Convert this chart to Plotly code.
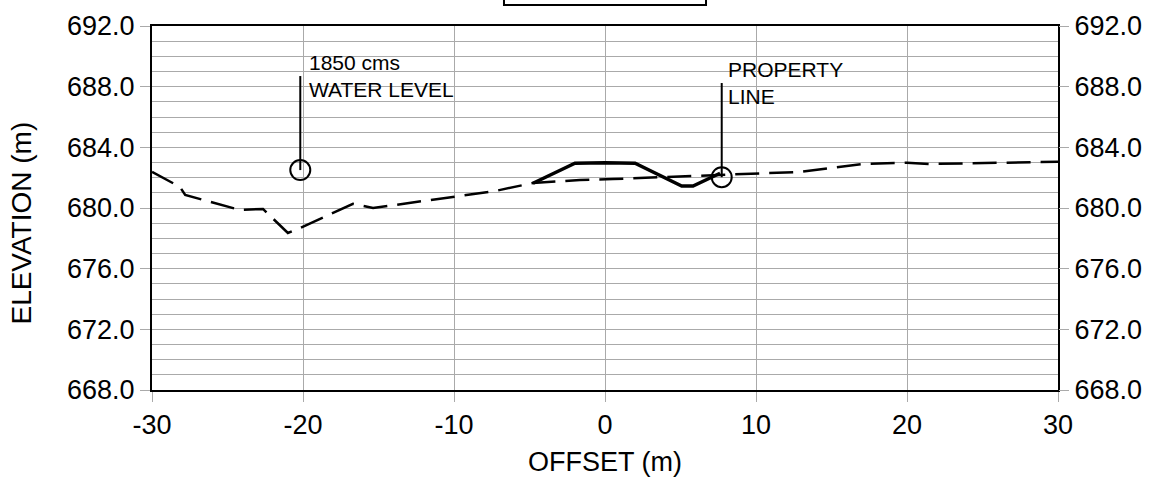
import plotly.graph_objects as go

# Existing ground (dashed)
ground_x = [-30, -28.15, -27.8, -24.17, -22.65, -21.0, -20.33, -16.69, -15.36, -7.28,
            -4.77, -1.66, 0.53, 4.1, 7.62, 12.9, 17.1, 20.0, 21.5, 30]
ground_y = [682.38, 681.39, 680.86, 679.87, 679.94, 678.35, 678.62, 680.27, 680.0, 681.12,
            681.65, 681.85, 681.91, 682.05, 682.18, 682.38, 682.9, 682.99, 682.9, 683.05]

# Proposed section (solid)
road_x = [-4.77, -1.99, 0.0, 1.99, 5.08, 5.83, 7.62]
road_y = [681.63, 682.95, 682.99, 682.95, 681.45, 681.45, 682.29]

# Markers: water level and property line
water_x = [-20.18]
water_y = [682.5]
water_top = [688.7]
water_label = "1850 cms<br>WATER LEVEL"

prop_x = [7.73]
prop_y = [682.03]
prop_top = [688.24]
prop_label = "PROPERTY<br>LINE"

x_ticks = [-30, -20, -10, 0, 10, 20, 30]
x_tick_labels = ["-30", "-20", "-10", "0", "10", "20", "30"]
x_range = [-30, 30]
y_range = [668, 692]

FONT = "Liberation Sans, Arial, sans-serif"
GRID = "#aaaaaa"

fig = go.Figure()
fig.add_trace(go.Scatter(x=ground_x, y=ground_y, mode="lines",
                         line=dict(color="black", width=2.5, dash="24px,10px"),
                         showlegend=False, hoverinfo="skip"))
fig.add_trace(go.Scatter(x=road_x, y=road_y, mode="lines",
                         line=dict(color="black", width=3.5),
                         showlegend=False, hoverinfo="skip"))
for mx, my, mt in [(water_x, water_y, water_top), (prop_x, prop_y, prop_top)]:
    fig.add_trace(go.Scatter(x=[mx[0], mx[0]], y=[my[0], mt[0]], mode="lines",
                             line=dict(color="black", width=2),
                             showlegend=False, hoverinfo="skip"))
    fig.add_trace(go.Scatter(x=mx, y=my, mode="markers",
                             marker=dict(symbol="circle-open", size=20,
                                         color="black", line=dict(width=2)),
                             showlegend=False, hoverinfo="skip"))
# invisible trace so the right axis is drawn
fig.add_trace(go.Scatter(x=ground_x, y=ground_y, mode="lines", yaxis="y2",
                         line=dict(width=0), opacity=0,
                         showlegend=False, hoverinfo="skip"))

fig.add_annotation(x=water_x[0] + 0.45, y=water_top[0], text=water_label,
                   xanchor="left", yanchor="middle", align="left", showarrow=False,
                   font=dict(family=FONT, size=21, color="black"))
fig.add_annotation(x=prop_x[0] + 0.3, y=prop_top[0], text=prop_label,
                   xanchor="left", yanchor="middle", align="left", showarrow=False,
                   font=dict(family=FONT, size=21, color="black"))

# axis titles
fig.add_annotation(x=0.5, y=-0.198, xref="paper", yref="paper", text="OFFSET (m)",
                   showarrow=False, xanchor="center", yanchor="middle",
                   font=dict(family=FONT, size=27, color="black"))
fig.add_annotation(x=-0.1435, y=0.46, xref="paper", yref="paper", text="ELEVATION (m)",
                   showarrow=False, xanchor="center", yanchor="middle", textangle=-90,
                   font=dict(family=FONT, size=28, color="black"))

# title box at top (clipped)
fig.add_shape(type="rect", xref="paper", yref="paper", x0=0.3885, x1=0.6115,
              y0=1.0577, y1=1.3, line=dict(color="black", width=2), fillcolor="white")

tick_font = dict(family=FONT, size=27, color="black")
fig.update_layout(
    width=1175, height=487,
    margin=dict(l=152, r=117, t=26, b=97, autoexpand=False),
    paper_bgcolor="white", plot_bgcolor="white",
    font=dict(family=FONT, size=27, color="black"),
    xaxis=dict(range=x_range, tickvals=x_ticks, ticktext=x_tick_labels, showgrid=True,
               gridcolor=GRID, gridwidth=1, automargin=False,
               zeroline=False, showline=True, linecolor="black", linewidth=2, mirror=True,
               ticks="outside", ticklen=10, tickcolor=GRID, tickwidth=1, tickfont=tick_font),
    yaxis=dict(range=y_range, dtick=4, tick0=668, tickformat=".1f", showgrid=True,
               gridcolor=GRID, gridwidth=1, zeroline=False, showline=True, automargin=False,
               linecolor="black", linewidth=2, mirror=True,
               ticks="outside", ticklen=10, tickcolor=GRID, tickwidth=1, tickfont=tick_font,
               minor=dict(dtick=1, showgrid=True, gridcolor=GRID, gridwidth=1)),
    yaxis2=dict(range=y_range, dtick=4, tick0=668, tickformat=".1f", overlaying="y",
                side="right", showgrid=False, zeroline=False, showline=False, automargin=False,
                ticks="outside", ticklen=10, tickcolor=GRID, tickwidth=1, tickfont=tick_font),
)

fig.write_html("out.html", config={"displayModeBar": False},
               post_script="document.body.style.margin='0';document.body.style.overflow='hidden';")
